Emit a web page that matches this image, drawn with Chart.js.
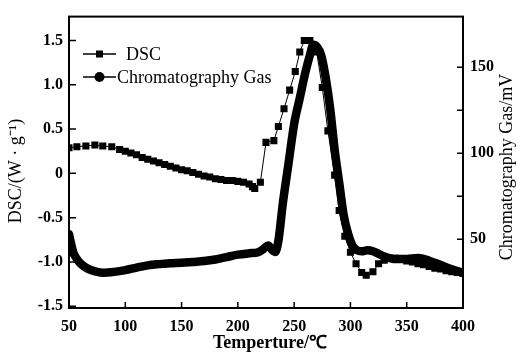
<!DOCTYPE html>
<html>
<head>
<meta charset="utf-8">
<style>
  html, body { margin: 0; padding: 0; background: #fff; overflow: hidden; }
</style>
</head>
<body>
<canvas id="myChart" width="516" height="357"></canvas>
<script src="https://cdn.jsdelivr.net/npm/chart.js@4.4.1/dist/chart.umd.min.js"></script>
<script>
// DSC curve (square markers), left axis W/g
const dscTemp = [50, 57, 65, 73, 80, 88, 95, 100, 105, 110, 115, 120, 125, 130, 135, 140, 145, 150, 155, 160,
  165, 170, 175, 180, 185, 190, 195, 200, 205, 210, 213, 215, 220, 225, 232, 236, 241, 246, 251, 255,
  259, 264, 270, 275, 280, 286, 290, 295, 300, 305, 310, 314, 320, 325, 330, 335, 340, 345, 350, 355,
  360, 365, 370, 375, 380, 385, 390, 395, 400];
const dscValue = [0.29, 0.30, 0.31, 0.32, 0.31, 0.30, 0.27, 0.25, 0.23, 0.21, 0.18, 0.16, 0.14, 0.12, 0.10, 0.08, 0.06, 0.04, 0.03, 0.01,
  -0.01, -0.03, -0.04, -0.06, -0.07, -0.08, -0.08, -0.09, -0.10, -0.12, -0.15, -0.17, -0.10, 0.35, 0.37, 0.53, 0.73, 0.94, 1.15, 1.37,
  1.50, 1.50, 1.37, 0.97, 0.48, -0.02, -0.42, -0.71, -0.89, -1.02, -1.12, -1.15, -1.11, -1.02, -0.98, -0.96, -0.96, -0.97, -0.99, -1.00,
  -1.02, -1.03, -1.05, -1.07, -1.08, -1.10, -1.11, -1.12, -1.13];

// chromatography gas signal, right axis mV
const gasTemp = [50, 52, 54, 57, 60, 65, 70, 75, 80, 90, 100, 110, 120, 130, 140, 150, 160, 170, 180, 190,
  200, 210, 218, 223, 227, 230, 233, 236, 240, 245, 250, 255, 260, 264, 267, 270, 274, 278, 282, 286,
  290, 294, 298, 302, 306, 310, 315, 320, 325, 330, 340, 350, 360, 370, 380, 390, 400];
const gasValue = [53, 47, 42, 38.5, 36, 33.5, 32, 31, 30.5, 31, 32, 33.5, 34.8, 35.5, 36, 36.3, 36.8, 37.3, 38.2, 39.6,
  41, 41.8, 42.4, 44.5, 46.4, 44, 42.5, 49, 71, 94, 117, 132, 147, 157, 163, 162, 157, 144, 126, 102,
  83, 64, 53, 46, 43.5, 43, 43.5, 43, 41.5, 40, 38.5, 38.5, 39, 37.5, 35, 32.5, 30.5];

const xTicks = [50, 100, 150, 200, 250, 300, 350, 400];
const dscTicks = [-1.5, -1.0, -0.5, 0, 0.5, 1.0, 1.5];
const gasTicks = [50, 75, 100, 125, 150];
const gasLabels = [50, 100, 150];

const serif = '"Liberation Serif", "Times New Roman", serif';

const framePlugin = {
  id: 'framePlugin',
  afterDatasetsDraw(chart) {
    const ctx = chart.ctx;
    const a = chart.chartArea;
    const sx = chart.scales.x, sy = chart.scales.y, sy1 = chart.scales.y1;
    ctx.save();
    ctx.strokeStyle = '#000';
    ctx.lineWidth = 2;
    ctx.strokeRect(a.left, a.top, a.right - a.left, a.bottom - a.top);
    ctx.lineWidth = 1.5;
    ctx.beginPath();
    xTicks.forEach(v => {
      const p = sx.getPixelForValue(v);
      ctx.moveTo(p, a.bottom); ctx.lineTo(p, a.bottom - 6);
    });
    dscTicks.forEach(v => {
      const p = sy.getPixelForValue(v);
      ctx.moveTo(a.left, p); ctx.lineTo(a.left + 7, p);
    });
    gasTicks.forEach(v => {
      const p = sy1.getPixelForValue(v);
      ctx.moveTo(a.right, p); ctx.lineTo(a.right - 6, p);
    });
    ctx.stroke();

    // legend: line + marker + text
    const rows = [
      { y: 54, text: 'DSC', tx: 126, shape: 'rect' },
      { y: 77, text: 'Chromatography Gas', tx: 117, shape: 'circle' }
    ];
    ctx.fillStyle = '#000';
    ctx.font = '18px ' + serif;
    ctx.textBaseline = 'middle';
    ctx.textAlign = 'left';
    rows.forEach(r => {
      ctx.lineWidth = 1.5;
      ctx.beginPath();
      ctx.moveTo(83, r.y); ctx.lineTo(116, r.y);
      ctx.stroke();
      if (r.shape === 'rect') {
        ctx.fillRect(96, r.y - 3.5, 7, 7);
      } else {
        ctx.beginPath();
        ctx.arc(99.5, r.y, 5, 0, Math.PI * 2);
        ctx.fill();
      }
      ctx.fillText(r.text, r.tx, r.y + 1);
    });

    // axis titles
    ctx.textAlign = 'center';
    ctx.font = 'bold 18px ' + serif;
    ctx.fillText('Temperture/\u2103', (a.left + a.right) / 2 + 4, 343);
    ctx.font = '18px ' + serif;
    ctx.save();
    ctx.translate(16, 171);
    ctx.rotate(-Math.PI / 2);
    ctx.fillText('DSC/(W \u00b7 g\u207b\u00b9)', 0, 0);
    ctx.restore();
    ctx.save();
    ctx.translate(507, 167);
    ctx.rotate(-Math.PI / 2);
    ctx.fillText('Chromatography Gas/mV', 0, 0);
    ctx.restore();
    ctx.restore();
  }
};

const tickFont = { family: serif, size: 16, weight: 'bold' };

new Chart('myChart', {
  type: 'line',
  data: {
    datasets: [{
      label: 'DSC',
      data: dscTemp.map((t, i) => ({ x: t, y: dscValue[i] })),
      yAxisID: 'y',
      borderColor: '#000',
      backgroundColor: '#000',
      borderWidth: 1,
      pointStyle: 'rect',
      pointRadius: 5,
      pointBorderWidth: 0,
      tension: 0
    }, {
      label: 'Chromatography Gas',
      data: gasTemp.map((t, i) => ({ x: t, y: gasValue[i] })),
      yAxisID: 'y1',
      borderColor: '#000',
      backgroundColor: '#000',
      borderWidth: 8.5,
      pointRadius: 0,
      borderCapStyle: 'round',
      borderJoinStyle: 'round',
      cubicInterpolationMode: 'monotone'
    }]
  },
  options: {
    responsive: false,
    animation: false,
    layout: { padding: { top: 10, left: 0, right: 0, bottom: 0 } },
    plugins: { legend: { display: false }, tooltip: { enabled: false } },
    scales: {
      x: {
        type: 'linear', min: 50, max: 400,
        afterBuildTicks: s => { s.ticks = xTicks.map(v => ({ value: v })); },
        afterFit: s => { s.height = 49; },
        grid: { display: false, drawTicks: false },
        border: { display: false },
        ticks: { color: '#000', padding: 9, maxRotation: 0, font: tickFont }
      },
      y: {
        position: 'left', min: -1.52, max: 1.77,
        afterBuildTicks: s => { s.ticks = dscTicks.map(v => ({ value: v })); },
        afterFit: s => { s.width = 69; },
        grid: { display: false, drawTicks: false },
        border: { display: false },
        ticks: {
          color: '#000', padding: 6, font: tickFont,
          callback: v => (v === 0 ? '0' : v.toFixed(1))
        }
      },
      y1: {
        position: 'right', min: 10, max: 179.4,
        afterBuildTicks: s => { s.ticks = gasTicks.map(v => ({ value: v })); },
        afterFit: s => { s.width = 53; },
        grid: { display: false, drawTicks: false },
        border: { display: false },
        ticks: {
          color: '#000', padding: 7, font: tickFont,
          callback: v => (gasLabels.includes(v) ? String(v) : '')
        }
      }
    }
  },
  plugins: [framePlugin]
});
</script>
</body>
</html>
